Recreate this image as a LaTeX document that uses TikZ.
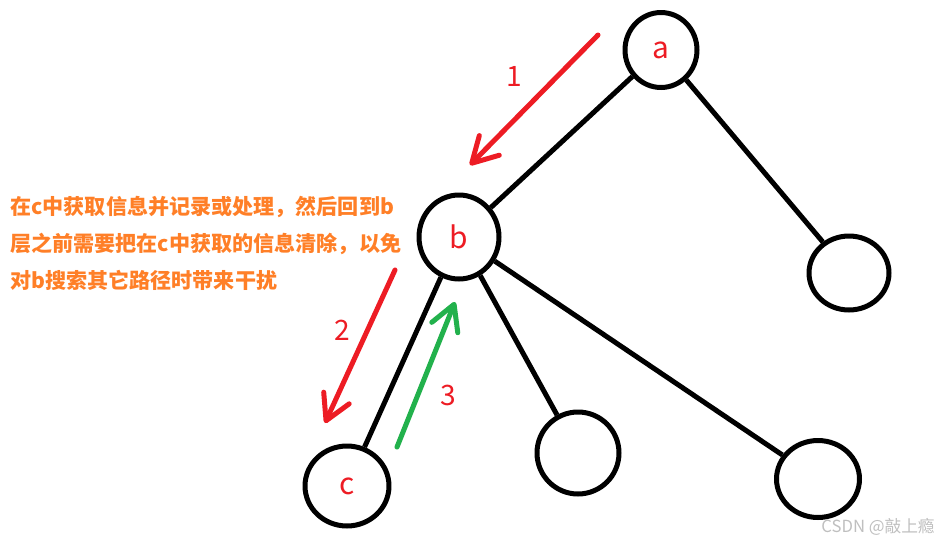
\documentclass[tikz,border=0pt]{standalone}
\usepackage{fontspec}
\setmainfont{Noto Sans CJK SC}
\usetikzlibrary{shapes.geometric, arrows.meta}
\definecolor{paintred}{HTML}{ED1C24}
\definecolor{paintgreen}{HTML}{22B14C}
\definecolor{paintorange}{HTML}{FF7F27}

\begin{document}
\begin{tikzpicture}[
    x=0.02cm, y=-0.02cm,
    vertex/.style={ellipse, draw=black, line width=0.1cm, inner sep=0pt, text=paintred, font=\fontsize{17}{20}\selectfont},
    edge/.style={line width=0.1cm, draw=black},
    walk/.style={-{Straight Barb[length=5mm, width=5.6mm, line cap=round, line join=round]}, line width=0.1cm, line cap=round},
    numlabel/.style={text=paintred, inner sep=0pt, font=\fontsize{16}{19}\selectfont},
    note/.style={text=paintorange, inner sep=0pt, align=left, font=\fontsize{12}{21}\selectfont\bfseries}
]
    \useasboundingbox (0,0) rectangle (943,545);

    \node (a) at (661,50) [vertex, minimum width=1.44cm, minimum height=1.5cm] {a};
    \node (b) at (459,237) [vertex, minimum width=1.6cm, minimum height=1.68cm] {b};
    \node (ra) at (849,273) [vertex, minimum width=1.6cm, minimum height=1.48cm] {};
    \node (c) at (347,486) [vertex, minimum width=1.68cm, minimum height=1.6cm] {c};
    \node (mid) at (578,453) [vertex, minimum width=1.64cm, minimum height=1.64cm] {};
    \node (rb) at (818,479) [vertex, minimum width=1.66cm, minimum height=1.54cm] {};

    \draw[edge] (a) -- (b);
    \draw[edge] (a) -- (ra);
    \draw[edge] (b) -- (c);
    \draw[edge] (b) -- (mid);
    \draw[edge] (b) -- (rb);

    \coordinate (walk1s) at (598,35);
    \coordinate (walk1e) at (470,165);
    \coordinate (walk2s) at (395,270);
    \coordinate (walk2e) at (325,423);
    \coordinate (walk3s) at (397,447);
    \coordinate (walk3e) at (455,302);

    \draw[walk, draw=paintred] (walk1s) -- (walk1e);
    \draw[walk, draw=paintred] (walk2s) -- (walk2e);
    \draw[walk, draw=paintgreen] (walk3s) -- (walk3e);

    \node (num1) at (514,76) [numlabel] {1};
    \node (num2) at (342,330) [numlabel] {2};
    \node (num3) at (448,395) [numlabel] {3};

    \node (info) at (10,196) [note, anchor=north west] {在c中获取信息并记录或处理，然后回到b\\层之前需要把在c中获取的信息清除，以免\\对b搜索其它路径时带来干扰};

    \node (mark) at (878,527) [text=gray!50, inner sep=0pt, font=\fontsize{9.5}{11}\selectfont] {CSDN @敲上瘾};
\end{tikzpicture}
\end{document}
